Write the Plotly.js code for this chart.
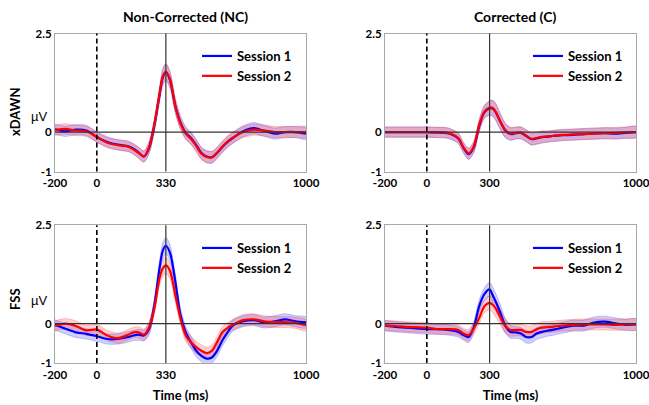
<!DOCTYPE html>
<html>
<head>
<meta charset="utf-8">
<script src="https://cdn.plot.ly/plotly-3.0.1.min.js"></script>
<style>html,body{margin:0;padding:0;background:#fff;}#chart{width:649px;height:405px;}</style>
</head>
<body>
<div id="chart"></div>
<script>
// ---- data ----
const timeMs = [-200,-150,-100,-50,0,50,100,150,175,200,225,250,275,300,315,330,350,375,400,425,450,475,500,525,550,575,600,625,650,700,750,800,850,900,950,1000];

const xdawnNC_s1 = [0.07,0.02,0.06,0.04,-0.13,-0.25,-0.32,-0.36,-0.42,-0.52,-0.62,-0.40,0.17,0.95,1.38,1.52,1.32,0.67,0.24,-0.02,-0.15,-0.33,-0.53,-0.62,-0.64,-0.53,-0.38,-0.25,-0.15,0.02,0.10,0.03,-0.04,0.00,0.00,-0.04];
const xdawnNC_s2 = [0.05,0.08,0.04,0.02,-0.12,-0.27,-0.33,-0.37,-0.44,-0.53,-0.62,-0.38,0.19,0.97,1.40,1.53,1.33,0.66,0.22,-0.04,-0.17,-0.35,-0.55,-0.63,-0.64,-0.52,-0.37,-0.24,-0.14,0.00,0.06,0.04,0.00,0.00,0.00,0.00];

const xdawnC_s1 = [0.00,0.00,0.00,0.00,0.00,-0.01,-0.03,-0.16,-0.40,-0.56,-0.38,0.15,0.50,0.60,0.60,0.50,0.28,0.04,-0.05,-0.03,-0.02,-0.10,-0.18,-0.16,-0.13,-0.12,-0.10,-0.09,-0.08,-0.07,-0.05,-0.04,-0.03,-0.04,-0.02,0.00];
const xdawnC_s2 = [0.00,0.00,0.00,0.00,0.00,-0.01,-0.02,-0.15,-0.39,-0.54,-0.36,0.17,0.52,0.62,0.61,0.51,0.28,0.05,-0.04,-0.02,-0.02,-0.09,-0.17,-0.15,-0.12,-0.11,-0.10,-0.08,-0.07,-0.06,-0.05,-0.04,-0.03,-0.02,-0.01,0.00];

const fssNC_s1 = [-0.03,-0.13,-0.22,-0.26,-0.32,-0.39,-0.39,-0.34,-0.30,-0.28,-0.30,-0.13,0.47,1.42,1.85,1.98,1.80,1.08,0.22,-0.22,-0.47,-0.69,-0.82,-0.89,-0.86,-0.69,-0.43,-0.22,-0.05,0.06,0.09,0.03,0.06,0.11,0.06,0.03];
const fssNC_s2 = [-0.06,0.00,-0.06,-0.17,-0.15,-0.30,-0.37,-0.28,-0.22,-0.22,-0.28,-0.09,0.39,1.16,1.40,1.48,1.34,0.73,0.13,-0.30,-0.47,-0.60,-0.69,-0.75,-0.69,-0.47,-0.22,-0.11,-0.03,0.09,0.11,0.06,0.04,0.04,0.02,-0.04];

const fssC_s1 = [-0.05,-0.08,-0.10,-0.12,-0.14,-0.14,-0.16,-0.21,-0.29,-0.34,-0.08,0.44,0.75,0.87,0.72,0.55,0.30,-0.05,-0.21,-0.22,-0.25,-0.34,-0.34,-0.25,-0.21,-0.18,-0.16,-0.13,-0.10,-0.05,-0.05,0.03,0.05,0.01,-0.03,-0.02];
const fssC_s2 = [-0.05,-0.06,-0.08,-0.09,-0.10,-0.14,-0.14,-0.16,-0.25,-0.29,-0.12,0.14,0.44,0.53,0.48,0.38,0.18,-0.06,-0.16,-0.16,-0.16,-0.21,-0.21,-0.14,-0.10,-0.09,-0.08,-0.06,-0.05,-0.03,-0.02,-0.02,-0.02,-0.03,-0.02,-0.02];

// standard error (shaded band half-width)
const semBand = [0.13,0.13,0.13,0.13,0.13,0.13,0.13,0.13,0.13,0.14,0.14,0.15,0.16,0.18,0.20,0.21,0.20,0.18,0.16,0.15,0.15,0.15,0.15,0.15,0.15,0.14,0.14,0.14,0.14,0.14,0.14,0.14,0.14,0.14,0.14,0.14];

const seriesNames = ['Session 1','Session 2'];
const panelTitles = ['Non-Corrected (NC)','Corrected (C)'];
const rowLabels = ['xDAWN','FSS'];
const peakTickNC = [-200,0,330,1000];
const peakTickC = [-200,0,300,1000];
const yTicks = [-1,0,2.5];
const yTickText = ['-1','0','2.5'];

// ---- build ----
const FONT = 'Lato, "Open Sans", sans-serif';
const panels = [
  {xa:'x',  ya:'y',  lg:'legend',  s1:xdawnNC_s1, s2:xdawnNC_s2, peak:330},
  {xa:'x2', ya:'y2', lg:'legend2', s1:xdawnC_s1,  s2:xdawnC_s2,  peak:300},
  {xa:'x3', ya:'y3', lg:'legend3', s1:fssNC_s1,   s2:fssNC_s2,   peak:330},
  {xa:'x4', ya:'y4', lg:'legend4', s1:fssC_s1,    s2:fssC_s2,    peak:300}
];
const lineCols = ['#0000ff','#ff0000'];
const fillCols = ['rgba(60,60,255,0.24)','rgba(255,60,60,0.24)'];
const edgeCols = ['rgba(60,60,255,0.35)','rgba(255,60,60,0.35)'];

const traces = [];
panels.forEach(p => {
  [p.s1, p.s2].forEach((vals, k) => {
    const up = vals.map((v,i)=>v+semBand[i]);
    const lo = vals.map((v,i)=>v-semBand[i]);
    traces.push({
      x: timeMs.concat(timeMs.slice().reverse()),
      y: up.concat(lo.slice().reverse()),
      xaxis:p.xa, yaxis:p.ya, type:'scatter', mode:'lines',
      fill:'toself', fillcolor:fillCols[k],
      line:{color:edgeCols[k], width:0.8, shape:'spline', smoothing:0.8},
      showlegend:false, hoverinfo:'skip'
    });
  });
  [p.s1, p.s2].forEach((vals, k) => {
    traces.push({
      x: timeMs, y: vals, xaxis:p.xa, yaxis:p.ya, type:'scatter', mode:'lines',
      name: seriesNames[k], legend: p.lg,
      line:{color:lineCols[k], width:2.2, shape:'spline', smoothing:0.8}
    });
  });
});

const W=649, H=405;
const px = v => v/W, py = v => 1 - v/H;
const xDomL = [px(55), px(306)], xDomR = [px(385), px(636)];
const yDomT = [py(171.5), py(33.5)], yDomB = [py(363), py(225.3)];

function xAx(dom, anchor, ticks, title){
  const a = {domain:dom, anchor:anchor, range:[-200,1000], tickvals:ticks, ticktext:ticks.map(String),
    showgrid:false, zeroline:false, showline:true, mirror:true, linecolor:'#a8a8a8', linewidth:1,
    ticks:'', ticklabeloverflow:'allow', ticklabelstandoff:1,
    tickfont:{family:FONT, size:11.5, color:'#000', weight:'bold'}, fixedrange:true};
  if (title) a.title = {text:title, font:{family:FONT, size:13, color:'#000', weight:'bold'}, standoff:11};
  return a;
}
function yAx(dom, anchor){
  return {domain:dom, anchor:anchor, range:[-1,2.5], tickvals:yTicks, ticktext:yTickText,
    showgrid:false, zeroline:false, showline:true, mirror:true, linecolor:'#a8a8a8', linewidth:1,
    ticks:'', tickfont:{family:FONT, size:11.5, color:'#000', weight:'bold'}, fixedrange:true};
}

const shapes = [];
panels.forEach(p => {
  shapes.push({type:'line', xref:p.xa, yref:p.ya+' domain', x0:0, x1:0, y0:0, y1:1, line:{color:'#000', width:1.6, dash:'5px,3px'}});
  shapes.push({type:'line', xref:p.xa, yref:p.ya+' domain', x0:p.peak, x1:p.peak, y0:0, y1:1, line:{color:'#333', width:1.2}});
  shapes.push({type:'line', xref:p.xa+' domain', yref:p.ya, x0:0, x1:1, y0:0, y1:0, line:{color:'#333', width:1.3}});
});

const legFont = {family:FONT, size:13, color:'#000', weight:'bold'};
function leg(xp, yp){ return {x:px(xp), y:py(yp), xanchor:'left', yanchor:'top', bgcolor:'rgba(0,0,0,0)', borderwidth:0, font:legFont, tracegroupgap:0}; }

function ann(text, x, y, font, angle){
  return {text:text, x:px(x), y:py(y), xref:'paper', yref:'paper', xanchor:'center', yanchor:'middle', showarrow:false, textangle:angle||0, font:font};
}
const titleFont = {family:FONT, size:14, color:'#000', weight:'bold'};
const rowFont = {family:FONT, size:13, color:'#000', weight:'bold'};
const unitFont = {family:'"Liberation Sans", Arial, sans-serif', size:13, color:'#000'};
const anns = [
  ann(panelTitles[0], 185, 16, titleFont),
  ann(panelTitles[1], 514.5, 16, titleFont),
  ann(rowLabels[0], 15, 112, rowFont, -90),
  ann(rowLabels[1], 15, 299, rowFont, -90),
  ann('\u00B5V', 39, 117, unitFont),
  ann('\u00B5V', 39, 300, unitFont)
];

const layout = {
  width:W, height:H, margin:{l:0,r:0,t:0,b:0}, paper_bgcolor:'#fff', plot_bgcolor:'#fff',
  xaxis: xAx(xDomL,'y', peakTickNC),
  yaxis: yAx(yDomT,'x'),
  xaxis2: xAx(xDomR,'y2', peakTickC),
  yaxis2: yAx(yDomT,'x2'),
  xaxis3: xAx(xDomL,'y3', peakTickNC, 'Time (ms)'),
  yaxis3: yAx(yDomB,'x3'),
  xaxis4: xAx(xDomR,'y4', peakTickC, 'Time (ms)'),
  yaxis4: yAx(yDomB,'x4'),
  legend: leg(197, 41),
  legend2: leg(528, 41),
  legend3: leg(197, 233),
  legend4: leg(528, 233),
  shapes: shapes,
  annotations: anns,
  showlegend:true
};

Plotly.newPlot('chart', traces, layout, {displayModeBar:false, staticPlot:true});
</script>
</body>
</html>
